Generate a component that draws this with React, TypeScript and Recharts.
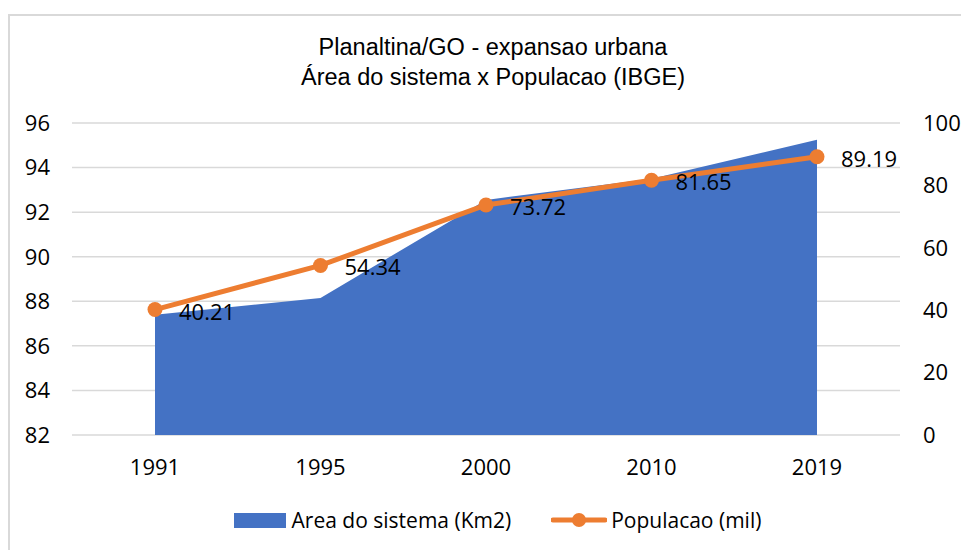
import React from 'react'
import {
  ComposedChart, Area, Line, XAxis, YAxis, CartesianGrid, Legend, LabelList
} from 'recharts'

const years = ['1991', '1995', '2000', '2010', '2019']
const areaKm2 = [87.4, 88.15, 92.55, 93.5, 95.25]
const populacao = [40.21, 54.34, 73.72, 81.65, 89.19]
const leftTicks = [82, 84, 86, 88, 90, 92, 94, 96]
const rightTicks = [0, 20, 40, 60, 80, 100]

const data = years.map((y, i) => ({ year: y, area: areaKm2[i], pop: populacao[i] }))

const FONT = '"Open Sans", sans-serif'
const BLUE = '#4472C4'
const ORANGE = '#ED7D31'

const PopLabel = (props: any) => {
  const { x, y, value } = props
  return (
    <text x={x + 24} y={y + 1} dominantBaseline="central" fontSize={22} fontFamily={FONT} fill="#000">
      {Number(value).toFixed(2)}
    </text>
  )
}

const LegendContent = () => (
  <div style={{ display: 'flex', justifyContent: 'center', alignItems: 'center', height: 30, fontFamily: FONT, fontSize: 21, color: '#000', paddingLeft: 34 }}>
    <span style={{ display: 'inline-block', width: 52, height: 15, background: BLUE, marginRight: 6 }} />
    <span style={{ marginRight: 40 }}>Area do sistema (Km2)</span>
    <svg width={56} height={16} style={{ marginRight: 4 }}>
      <line x1={2} y1={8} x2={54} y2={8} stroke={ORANGE} strokeWidth={5} strokeLinecap="round" />
      <circle cx={28} cy={8} r={7} fill={ORANGE} />
    </svg>
    <span>Populacao (mil)</span>
  </div>
)

export default function App() {
  return (
    <div style={{ position: 'absolute', left: 0, top: 0, width: 961, height: 550, background: '#fff', overflow: 'hidden' }}>
      <div style={{ position: 'absolute', left: 8, top: 14, width: 1000, height: 600, borderLeft: '2px solid #d9d9d9', borderTop: '2px solid #d9d9d9' }} />
      <div style={{ position: 'absolute', left: 0, top: 32, width: 986, textAlign: 'center', fontFamily: '"Liberation Sans", Arial, sans-serif', fontSize: 23.5, lineHeight: '30px', color: '#000' }}>
        <div>Planaltina/GO - expansao urbana</div>
        <div>Área do sistema x Populacao (IBGE)</div>
      </div>
      <div style={{ position: 'absolute', left: 0, top: 0 }}>
        <ComposedChart width={961} height={550} data={data} margin={{ top: 123, right: 0, bottom: 15, left: 0 }}>
          <CartesianGrid yAxisId="left" vertical={false} stroke="#d9d9d9" strokeWidth={1.5} />
          <XAxis
            dataKey="year"
            padding={{ left: 83, right: 83 }}
            axisLine={false}
            tickLine={false}
            tickSize={0}
            tickMargin={24}
            height={70}
            tick={{ fontSize: 22, fontFamily: FONT, fill: '#000' }}
          />
          <YAxis
            yAxisId="left"
            domain={[82, 96]}
            ticks={leftTicks}
            width={72}
            axisLine={false}
            tickLine={false}
            tickSize={0}
            tickMargin={22}
            tick={{ fontSize: 22, fontFamily: FONT, fill: '#000' }}
          />
          <YAxis
            yAxisId="right"
            orientation="right"
            domain={[0, 100]}
            ticks={rightTicks}
            width={61}
            axisLine={false}
            tickLine={false}
            tickSize={0}
            tickMargin={23}
            tick={{ fontSize: 22, fontFamily: FONT, fill: '#000', textAnchor: 'start' }}
          />
          <Area
            yAxisId="left"
            type="linear"
            dataKey="area"
            name="Area do sistema (Km2)"
            fill={BLUE}
            fillOpacity={1}
            stroke="none"
            isAnimationActive={false}
          />
          <Line
            yAxisId="right"
            type="linear"
            dataKey="pop"
            name="Populacao (mil)"
            stroke={ORANGE}
            strokeWidth={5}
            dot={{ r: 7.5, fill: ORANGE, stroke: ORANGE, strokeWidth: 0 }}
            activeDot={false}
            isAnimationActive={false}
          >
            <LabelList dataKey="pop" content={PopLabel} />
          </Line>
          <Legend verticalAlign="bottom" height={30} content={<LegendContent />} />
        </ComposedChart>
      </div>
    </div>
  )
}
